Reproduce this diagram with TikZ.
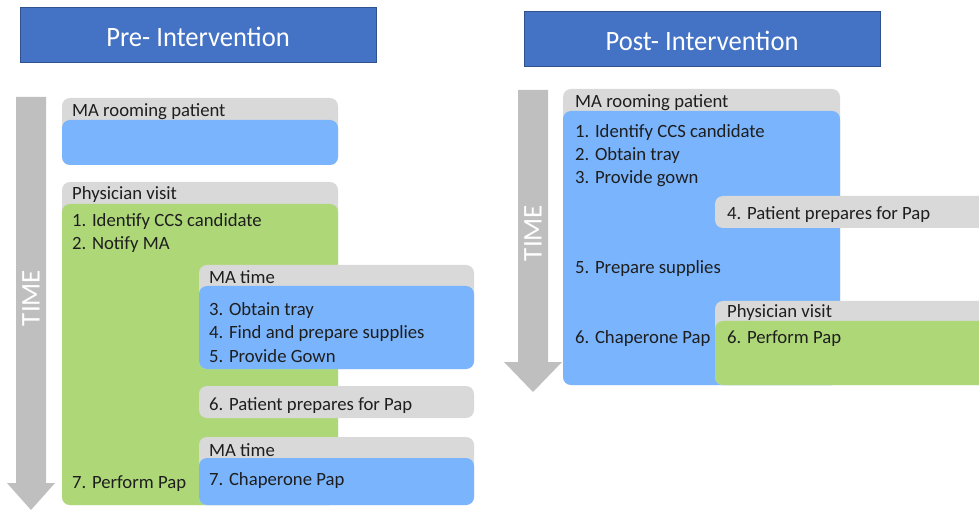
\documentclass[tikz,border=0pt]{standalone}
\usepackage{fontspec}
\setmainfont{Carlito}
\definecolor{titleblue}{RGB}{68,114,196}
\definecolor{titleedge}{RGB}{47,82,143}
\definecolor{lgray}{RGB}{217,217,217}
\definecolor{agray}{RGB}{191,191,191}
\definecolor{mblue}{RGB}{122,180,252}
\definecolor{mgreen}{RGB}{174,216,120}
\definecolor{txt}{RGB}{30,30,30}
\tikzset{
  titlebox/.style={fill=titleblue,draw=titleedge,line width=1pt},
  titletxt/.style={text=white,font=\fontsize{28}{32}\selectfont,xscale=0.95},
  graybox/.style={fill=lgray,rounded corners=8pt},
  bluebox/.style={fill=mblue,rounded corners=8pt},
  greenbox/.style={fill=mgreen,rounded corners=8pt},
  lbl/.style={anchor=west,text=txt,font=\fontsize{18.7}{20}\selectfont,inner sep=0pt,yshift=-1.5pt},
  timearrow/.style={fill=agray},
  timetxt/.style={text=white,font=\fontsize{27}{30}\selectfont,rotate=90}
}
\begin{document}
\begin{tikzpicture}[x=1pt,y=-1pt]
\useasboundingbox (0,0) rectangle (979,510);
\begin{scope}
\clip (0,0) rectangle (979,510);
% titles
\draw[titlebox] (20,8) rectangle (376,63);
\node[titletxt] (pre) at (198,37) {Pre- Intervention};
\draw[titlebox] (524,12) rectangle (880,67);
\node[titletxt] (post) at (702,41) {Post- Intervention};

% left time arrow
\fill[timearrow] (16,97) -- (46,97) -- (46,483) -- (55,483) -- (31,510) -- (7,483) -- (16,483) -- cycle;
\node[timetxt] (tl) at (31,298) {TIME};
% right time arrow
\fill[timearrow] (518,90) -- (548,90) -- (548,362) -- (562,362) -- (533,392) -- (504,362) -- (518,362) -- cycle;
\node[timetxt] (tr) at (533,233) {TIME};

% ---- left panel
\fill[graybox] (62,98) rectangle (338,165);
\fill[bluebox] (62,120) rectangle (338,165);
\node[lbl] (l1) at (72,110) {MA rooming patient};

\fill[graybox] (62,182) rectangle (338,505);
\fill[greenbox] (62,204) rectangle (338,505);
\node[lbl] (l2) at (72,193) {Physician visit};
\node[lbl] (l3) at (72,220) {1. Identify CCS candidate};
\node[lbl] (l4) at (72,243) {2. Notify MA};
\node[lbl] (l5) at (72,482) {7. Perform Pap};

\fill[graybox] (199,265) rectangle (474,369);
\fill[bluebox] (199,286) rectangle (474,369);
\node[lbl] (l6) at (209,276) {MA time};
\node[lbl] (l7) at (209,309) {3. Obtain tray};
\node[lbl] (l8) at (209,332) {4. Find and prepare supplies};
\node[lbl] (l9) at (209,355) {5. Provide Gown};

\fill[graybox] (199,386) rectangle (474,418);
\node[lbl] (l10) at (209,404) {6. Patient prepares for Pap};

\fill[graybox] (199,437) rectangle (474,505);
\fill[bluebox] (199,458) rectangle (474,505);
\node[lbl] (l11) at (209,449) {MA time};
\node[lbl] (l12) at (209,479) {7. Chaperone Pap};

% ---- right panel
\fill[graybox] (563,89) rectangle (840,385);
\fill[bluebox] (563,111) rectangle (840,385);
\node[lbl] (r1) at (575,101) {MA rooming patient};
\node[lbl] (r2) at (575,131) {1. Identify CCS candidate};
\node[lbl] (r3) at (575,154) {2. Obtain tray};
\node[lbl] (r4) at (575,177) {3. Provide gown};
\node[lbl] (r5) at (575,267) {5. Prepare supplies};
\node[lbl] (r6) at (575,337) {6. Chaperone Pap};

\fill[graybox] (715,196) rectangle (995,228);
\node[lbl] (r7) at (727,213) {4. Patient prepares for Pap};

\fill[graybox] (715,301) rectangle (995,385);
\fill[greenbox] (715,321) rectangle (995,385);
\node[lbl] (r8) at (727,311) {Physician visit};
\node[lbl] (r9) at (727,337) {6. Perform Pap};
\end{scope}
\end{tikzpicture}
\end{document}
